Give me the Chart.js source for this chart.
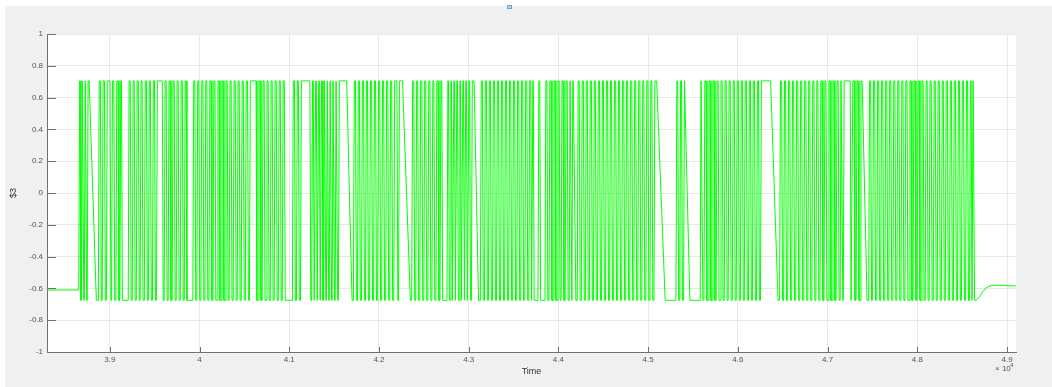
<!DOCTYPE html>
<html>
<head>
<meta charset="utf-8">
<script src="https://cdn.jsdelivr.net/npm/chart.js@4.4.1/dist/chart.umd.min.js"></script>
<style>
  html, body { margin: 0; padding: 0; background: #fff; }
  canvas { display: block; }
</style>
</head>
<body>
<canvas id="signalChart" width="1052" height="387"></canvas>
<script>
// Trace levels
const startTime = 38300;
const endTime = 49100;
const startLevel = -0.61;
const highLevel = 0.705;
const lowLevel = -0.675;
const edgeTime = 10;

// switching instants, alternating rise / fall; [a, b] is a slow edge from a to b
const switchTimes = [
	38654, 38668, 38684, 38700, 38716, 38732, 38748, [38770, 38850],
	38872, 38895, 38915, 38940, 38962, 39002, 39020, 39045, 39068, 39092, 39112, 39130,
	39205, 39228, 39250, 39272, 39295, 39318, 39338, 39360, 39385, 39408, 39430, 39452, 39475, 39498, 39520, 39585,
	39606, 39628, 39650, 39672, 39695, 39718, 39740, 39762, 39785, 39808, 39830, 39850,
	39925, 39948, 39970, 39992, 40015, 40038, 40060, 40082, 40105, 40128, 40150, 40172, 40195, 40218, 40240, 40262,
	40285, 40308, 40330, 40352, 40375, 40398, 40420, 40442, 40465, 40488, 40510, 40535, 40556, 40630,
	40652, 40675, 40698, 40720, 40742, 40765, 40788, 40810, 40832, 40855, 40878, 40900, 40922, 40945,
	41035, 41058, 41080, 41102, 41125, 41230, 41250, 41268, 41285, 41302, 41318, 41335, 41350, 41366, 41382, 41398,
	41414, 41430, 41446, 41462, 41478, 41495, 41512, 41530, 41548, [41640, 41700],
	41715, 41738, 41760, 41782, 41805, 41828, 41850, 41872, 41895, 41918, 41940, 41962, 41985, 42008, 42030, 42052,
	42075, 42098, 42120, 42142, 42165, 42200, 42218, [42262, 42350],
	42365, 42388, 42410, 42432, 42455, 42478, 42500, 42522, 42545, 42568, 42590, 42612, 42635, 42658, 42680, 42700,
	42758, 42775, 42792, 42808, 42825, 42842, 42858, 42875, 42892, 42908, 42925, 42942, 42958, 42975, 42992, 43010, 43030, [43060, 43110],
	43130, 43152, 43175, 43198, 43220, 43242, 43265, 43288, 43310, 43332, 43355, 43378, 43400, 43422, 43445, 43468,
	43490, 43512, 43535, 43558, 43580, 43602, 43625, 43648, 43670, 43692, 43705, 43720, 43772, 43792,
	43850, 43872, 43895, 43918, 43940, 43962, 43985, 44008, 44030, 44052, 44075, 44098, 44120, 44140, 44150, [44165, 44195],
	44210, 44232, 44255, 44278, 44300, 44322, 44345, 44368, 44390, 44412, 44435, 44458, 44480, 44502, 44525, 44548,
	44570, 44592, 44615, 44638, 44660, 44682, 44705, 44728, 44750, 44772, 44795, 44818, 44840, 44862, 44885, 44908,
	44930, 44952, 44975, 44998, 45020, 45042, 45065, [45095, 45190],
	45310, 45330, 45352, 45372, 45395, [45410, 45465],
	45580, 45600, 45622, 45645, 45668, 45690, 45712, 45735, 45758, 45780, 45802, 45825, 45848, 45870, 45892, 45915,
	45938, 45960, 45982, 46005, 46028, 46050, 46072, 46095, 46118, 46140, 46162, 46185, 46208, 46230, 46252, [46365, 46448],
	46465, 46488, 46510, 46532, 46555, 46578, 46600, 46622, 46645, 46668, 46690, 46712, 46735, 46758, 46780, 46802,
	46825, 46848, 46870, 46892, 46915, 46938, 46960, 46982, 47005, 47028, 47050, 47072, 47095, 47118, 47140, 47160,
	47175, 47252, 47272, 47295, 47318, 47340, 47362, [47385, 47440],
	47458, 47480, 47502, 47525, 47548, 47570, 47592, 47615, 47638, 47660, 47682, 47705, 47728, 47750, 47772, 47795,
	47818, 47840, 47862, 47885, 47908, 47930, 47952, 47975, 47998, 48020, 48042, 48065, 48088, 48110, 48132, 48155,
	48178, 48200, 48222, 48245, 48268, 48290, 48312, 48335, 48358, 48380, 48402, 48425, 48448, 48470, 48492, 48515,
	48538, 48560, 48582, 48600, 48612, 48628,
];

// settling after the last switch
const tailTimes = [48658, 48690, 48720, 48760, 48800, 48850, 48950, 49100];
const tailValues = [-0.675, -0.655, -0.628, -0.6, -0.586, -0.58, -0.582, -0.585];

const xTicks = [39000, 40000, 41000, 42000, 43000, 44000, 45000, 46000, 47000, 48000, 49000];
const xTickLabels = ['3.9', '4', '4.1', '4.2', '4.3', '4.4', '4.5', '4.6', '4.7', '4.8', '4.9'];
const yTicks = [-1, -0.8, -0.6, -0.4, -0.2, 0, 0.2, 0.4, 0.6, 0.8, 1];
const yTickLabels = ['-1', '-0.8', '-0.6', '-0.4', '-0.2', '0', '0.2', '0.4', '0.6', '0.8', '1'];

// build the trace
const points = [{ x: startTime, y: startLevel }];
let level = startLevel;
let isHigh = false;
switchTimes.forEach(function (e) {
	const t0 = Array.isArray(e) ? e[0] : e;
	const t1 = Array.isArray(e) ? e[1] : e + edgeTime;
	points.push({ x: t0, y: level });
	isHigh = !isHigh;
	level = isHigh ? highLevel : lowLevel;
	points.push({ x: t1, y: level });
});
tailTimes.forEach(function (t, i) {
	points.push({ x: t, y: tailValues[i] });
});

const font = '"Liberation Sans", Arial, sans-serif';
const axisColor = '#707070';

const framePlugin = {
	id: 'frame',
	beforeDraw(chart) {
		const { ctx, chartArea: a } = chart;
		ctx.save();
		ctx.fillStyle = '#ffffff';
		ctx.fillRect(0, 0, chart.width, chart.height);
		ctx.fillStyle = '#f0f0f0';
		ctx.fillRect(5, 6, chart.width - 5, chart.height - 6);
		ctx.fillStyle = '#ffffff';
		ctx.fillRect(a.left, a.top, a.right - a.left, a.bottom - a.top);
		// small marker above the axes
		ctx.fillStyle = '#b7d3ee';
		ctx.fillRect(507, 5, 5, 4);
		ctx.strokeStyle = '#6fa3d6';
		ctx.strokeRect(507.5, 5.5, 4, 3);
		ctx.restore();
	},
	afterDraw(chart) {
		const { ctx, chartArea: a, scales } = chart;
		ctx.save();
		ctx.strokeStyle = axisColor;
		ctx.lineWidth = 1;
		ctx.beginPath();
		xTicks.forEach(function (v) {
			const px = Math.round(scales.x.getPixelForValue(v)) + 0.5;
			ctx.moveTo(px, a.bottom);
			ctx.lineTo(px, a.bottom - 5);
		});
		yTicks.forEach(function (v) {
			const py = Math.round(scales.y.getPixelForValue(v)) + 0.5;
			ctx.moveTo(a.left, py);
			ctx.lineTo(a.left + 9, py);
		});
		ctx.stroke();
		// exponent of the time axis
		ctx.fillStyle = '#555555';
		ctx.textAlign = 'left';
		ctx.textBaseline = 'alphabetic';
		ctx.font = '8px ' + font;
		ctx.fillText('\u00d7 10', 995, 371);
		ctx.font = '6px ' + font;
		ctx.fillText('4', 1010, 367);
		ctx.restore();
	},
};

new Chart(document.getElementById('signalChart').getContext('2d'), {
	type: 'scatter',
	data: {
		datasets: [
			{
				label: '$3',
				data: points,
				showLine: true,
				borderColor: 'rgb(0, 255, 0)',
				borderWidth: 1,
				pointRadius: 0,
				tension: 0,
			},
		],
	},
	options: {
		responsive: false,
		animation: false,
		events: [],
		layout: { padding: { left: 5, top: 34, right: 36, bottom: 0 } },
		plugins: { legend: { display: false }, tooltip: { enabled: false } },
		scales: {
			x: {
				type: 'linear',
				min: startTime,
				max: endTime,
				afterBuildTicks(axis) {
					axis.ticks = xTicks.map((v) => ({ value: v }));
				},
				afterFit(axis) {
					axis.height = 35;
				},
				grid: { color: '#e8e8e8', drawTicks: false },
				border: { display: true, color: axisColor },
				ticks: {
					padding: 3,
					maxRotation: 0,
					color: '#555555',
					font: { family: font, size: 8 },
					callback: (v, i) => xTickLabels[i],
				},
				title: {
					display: true,
					text: 'Time',
					color: '#333333',
					font: { family: font, size: 9 },
					padding: { top: 0, bottom: 10 },
				},
			},
			y: {
				type: 'linear',
				min: -1,
				max: 1,
				afterBuildTicks(axis) {
					axis.ticks = yTicks.map((v) => ({ value: v }));
				},
				afterFit(axis) {
					axis.width = 42;
				},
				grid: { color: '#e8e8e8', drawTicks: false },
				border: { display: true, color: axisColor },
				ticks: {
					padding: 4,
					color: '#555555',
					font: { family: font, size: 8 },
					callback: (v, i) => yTickLabels[i],
				},
				title: {
					display: true,
					text: '$3',
					color: '#333333',
					font: { family: font, size: 9 },
					padding: { top: 3, bottom: 0 },
				},
			},
		},
	},
	plugins: [framePlugin],
});
</script>
</body>
</html>
